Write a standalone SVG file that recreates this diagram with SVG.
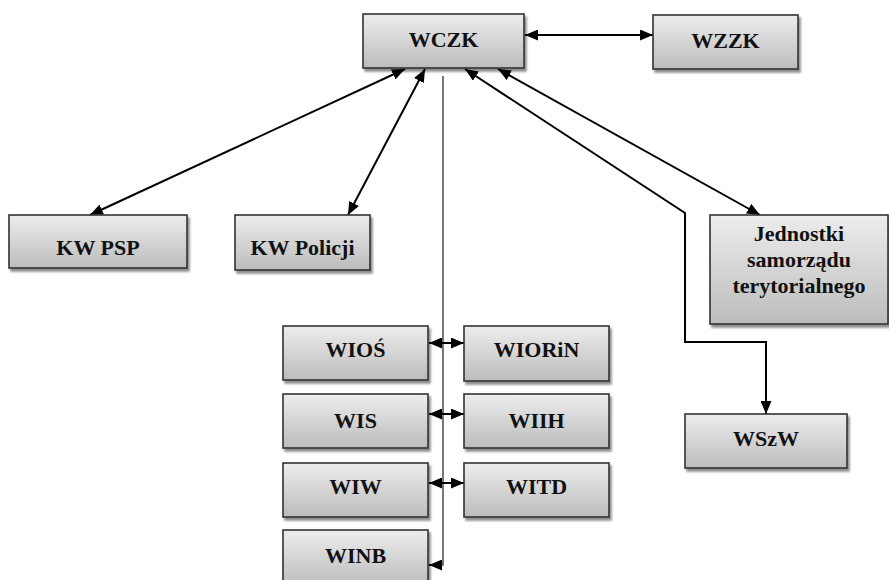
<svg xmlns="http://www.w3.org/2000/svg" width="889" height="580" viewBox="0 0 889 580">
  <defs>
    <linearGradient id="boxFill" x1="0" y1="0" x2="0" y2="1">
      <stop offset="0" stop-color="#ededed"/>
      <stop offset="1" stop-color="#bcbcbc"/>
    </linearGradient>
    <filter id="shadow" x="-10%" y="-10%" width="130%" height="140%">
      <feGaussianBlur in="SourceAlpha" stdDeviation="1.2"/>
      <feOffset dx="2" dy="3" result="off"/>
      <feComponentTransfer><feFuncA type="linear" slope="0.45"/></feComponentTransfer>
      <feMerge><feMergeNode/><feMergeNode in="SourceGraphic"/></feMerge>
    </filter>
    <marker id="arrow" viewBox="0 0 13 11" refX="13" refY="5.5" markerWidth="13" markerHeight="11" markerUnits="userSpaceOnUse" orient="auto-start-reverse">
      <path d="M0,0 L13,5.5 L0,11 Z" fill="#000"/>
    </marker>
  </defs>
  <style>
    .box { fill: url(#boxFill); stroke: #2f3237; stroke-width: 1.6; filter: url(#shadow); }
    .label { font-family: 'Liberation Serif', 'Times New Roman', 'DejaVu Serif', serif; font-weight: 700; font-size: 22px; fill: #111; text-anchor: middle; }
    .link { fill: none; stroke: #000; stroke-width: 2; }
    .trunk { fill: none; stroke: #555; stroke-width: 1.6; }
  </style>

  <rect width="889" height="580" fill="#fff"/>

  <!-- connectors -->
  <g id="connectors">
    <line class="link" x1="525" y1="35" x2="653" y2="35" marker-start="url(#arrow)" marker-end="url(#arrow)"/>
    <line class="link" x1="405" y1="69" x2="90" y2="215" marker-start="url(#arrow)" marker-end="url(#arrow)"/>
    <line class="link" x1="425" y1="69" x2="348" y2="215" marker-start="url(#arrow)" marker-end="url(#arrow)"/>
    <line class="link" x1="498" y1="69" x2="760" y2="215" marker-start="url(#arrow)" marker-end="url(#arrow)"/>
    <polyline class="link" points="465,69 685,213 685,342 766,342 766,414" marker-start="url(#arrow)" marker-end="url(#arrow)"/>
    <polyline class="trunk" points="443,76 443,565 436,565"/>
    <line class="link" x1="440" y1="565" x2="429" y2="565" marker-end="url(#arrow)"/>
    <line class="link" x1="429" y1="343" x2="464" y2="343" marker-start="url(#arrow)" marker-end="url(#arrow)"/>
    <line class="link" x1="429" y1="414" x2="464" y2="414" marker-start="url(#arrow)" marker-end="url(#arrow)"/>
    <line class="link" x1="429" y1="483" x2="464" y2="483" marker-start="url(#arrow)" marker-end="url(#arrow)"/>
  </g>

  <!-- nodes -->
  <g id="wczk"><rect class="box" x="363" y="14" width="161" height="54"/><text class="label" x="443.5" y="47">WCZK</text></g>
  <g id="wzzk"><rect class="box" x="653" y="15" width="145" height="54"/><text class="label" x="725.5" y="48">WZZK</text></g>
  <g id="kw-psp"><rect class="box" x="9" y="215" width="178" height="53"/><text class="label" x="98" y="255">KW PSP</text></g>
  <g id="kw-policji"><rect class="box" x="235" y="215" width="135" height="55"/><text class="label" x="302.5" y="255">KW Policji</text></g>
  <g id="jst"><rect class="box" x="710" y="215" width="178" height="109"/>
    <text class="label" x="799" y="241">Jednostki</text>
    <text class="label" x="799" y="267">samorządu</text>
    <text class="label" x="799" y="293">terytorialnego</text>
  </g>
  <g id="wios"><rect class="box" x="283" y="326" width="145" height="54"/><text class="label" x="355.5" y="357">WIOŚ</text></g>
  <g id="wiorin"><rect class="box" x="464" y="326" width="145" height="55"/><text class="label" x="536.5" y="357">WIORiN</text></g>
  <g id="wis"><rect class="box" x="283" y="394" width="145" height="54"/><text class="label" x="355.5" y="428">WIS</text></g>
  <g id="wiih"><rect class="box" x="464" y="394" width="145" height="54"/><text class="label" x="536.5" y="428">WIIH</text></g>
  <g id="wiw"><rect class="box" x="283" y="463" width="145" height="54"/><text class="label" x="355.5" y="494">WIW</text></g>
  <g id="witd"><rect class="box" x="464" y="463" width="145" height="54"/><text class="label" x="536.5" y="494">WITD</text></g>
  <g id="winb"><rect class="box" x="283" y="530" width="145" height="56"/><text class="label" x="355.5" y="563">WINB</text></g>
  <g id="wszw"><rect class="box" x="685" y="414" width="162" height="54"/><text class="label" x="766" y="446">WSzW</text></g>
</svg>
